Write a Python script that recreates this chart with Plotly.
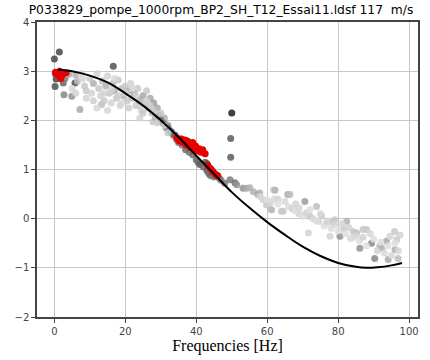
import plotly.graph_objects as go

# Fitted curve
curve_hz = [1, 5, 10, 15, 20, 25, 30, 35, 40, 45, 50, 55, 60, 65, 70, 75, 80, 85, 88, 91, 95, 98]
curve_val = [3.03, 3.00, 2.91, 2.77, 2.55, 2.30, 2.00, 1.66, 1.28, 0.91, 0.54, 0.22, -0.07, -0.33, -0.57, -0.76, -0.90, -0.98, -1.00, -0.99, -0.95, -0.90]

# Grey measurement points: frequency, value, darkness (0 white .. 1 black)
pts_hz = [
    0.0, 1.4, 0.2, 0.5, 2.5, 5.8, 4.9, 2.7, 0.3, 1.0, 3.0, 4.0, 6.0, 7.2, 16.6,
    6.5, 7.5, 8.5, 9.0, 10.0, 10.5, 11.0, 12.0, 12.5, 13.0, 13.3, 13.5, 14.0, 14.5, 15.0,
    15.5, 16.0, 16.5, 17.0, 17.5, 18.0, 18.5, 19.0, 19.5, 20.0, 20.5, 21.0, 21.5, 22.0,
    22.5, 23.0, 23.5, 24.0, 24.1, 24.5, 25.0, 25.5, 26.0, 26.5, 27.0, 27.5, 27.8, 28.0,
    28.5, 29.0, 29.5, 30.0, 30.5, 31.0, 31.5, 32.0, 32.5, 33.0, 33.5, 34.0, 34.5, 35.0,
    35.5, 36.0, 37.0, 37.5, 38.0, 39.0, 40.0, 40.5, 41.0, 42.0, 43.0, 43.5, 44.0, 45.0,
    30.0, 31.0, 32.0, 33.0, 34.0, 42.5, 43.0, 44.5, 45.5, 46.5, 47.0, 48.0,
    50.0, 49.7, 49.7, 49.5, 50.9, 51.4, 53.2, 54.2, 55.1, 56.1, 57.4, 57.9, 58.8, 59.8,
    60.8, 61.2, 61.7, 62.2, 64.0, 64.5, 65.8, 66.4, 70.6, 71.6, 72.0, 73.9, 75.3, 76.7,
    77.7, 78.6, 79.0, 80.5, 82.4, 84.2, 85.2, 86.1, 87.0, 88.0, 89.4, 90.3, 91.7, 92.2,
    93.6, 94.1, 94.6, 95.9, 96.0, 96.5, 96.9, 97.4, 68.0, 69.0, 74.5, 81.5, 83.5, 63.0,
    5.0, 6.0, 8.0, 9.0, 11.0, 12.0, 14.0, 15.0, 16.0, 17.0, 18.0, 19.0, 20.0, 21.0,
    22.0, 23.0, 24.0, 25.0, 26.0, 27.0, 28.0, 29.0, 30.0, 31.0, 32.0,
    58.0, 60.0, 62.0, 63.0, 65.0, 66.0, 67.0, 68.0, 69.0, 70.0, 71.0, 72.0, 73.0, 74.0,
    75.0, 76.0, 77.0, 78.0, 79.0, 80.0, 81.0, 82.0, 83.0, 84.0, 85.0, 86.0, 87.0, 88.0,
    89.0, 90.0, 91.0, 92.0, 93.0, 94.0, 95.0, 96.0, 97.0,
]
pts_val = [
    3.25, 3.39, 2.69, 2.84, 2.76, 2.76, 2.49, 2.52, 2.95, 2.88, 2.85, 2.93, 2.92, 2.22, 3.10,
    2.80, 2.95, 2.70, 2.60, 2.85, 2.55, 2.75, 2.95, 2.65, 2.50, 2.32, 2.80, 2.40, 2.70, 2.90,
    2.55, 2.35, 2.75, 2.60, 2.45, 2.82, 2.30, 2.65, 2.50, 2.70, 2.40, 2.60, 2.75, 2.45,
    2.55, 2.30, 2.65, 2.42, 2.05, 2.20, 2.50, 2.35, 2.60, 2.25, 2.45, 2.15, 1.97, 2.35,
    2.05, 2.25, 2.10, 2.00, 1.95, 2.05, 1.85, 1.90, 1.80, 1.75, 1.70, 1.68, 1.60, 1.55,
    1.62, 1.50, 1.40, 1.45, 1.35, 1.30, 1.20, 1.15, 1.10, 1.05, 0.98, 0.92, 0.88, 0.85,
    2.00, 1.93, 1.85, 1.77, 1.70, 1.15, 1.12, 0.98, 0.88, 0.82, 0.78, 0.72,
    2.15, 1.63, 1.25, 0.79, 0.73, 0.69, 0.62, 0.62, 0.63, 0.55, 0.49, 0.52, 0.39, 0.28,
    0.32, 0.18, 0.59, 0.58, 0.15, 0.15, 0.49, 0.49, 0.35, -0.29, 0.05, 0.25, 0.06, -0.09,
    -0.36, -0.07, -0.02, -0.36, -0.05, -0.26, -0.29, -0.60, -0.22, -0.22, -0.50, -0.81, -0.56, -0.60,
    -0.46, -0.83, -0.36, -0.26, -0.63, -0.43, -0.81, -0.33, 0.30, 0.10, -0.05, -0.20, -0.40, 0.40,
    2.65, 2.55, 2.85, 2.45, 2.40, 2.25, 2.55, 2.20, 2.62, 2.85, 2.50, 2.35, 2.55, 2.25,
    2.65, 2.50, 2.30, 2.15, 2.40, 2.30, 2.20, 1.95, 2.15, 1.90, 1.75,
    0.45, 0.38, 0.40, 0.30, 0.35, 0.25, 0.20, 0.15, 0.22, 0.05, 0.12, 0.18, 0.00, -0.05,
    0.10, -0.15, -0.05, -0.20, -0.12, -0.25, -0.10, -0.30, -0.18, -0.40, -0.35, -0.45, -0.38, -0.55,
    -0.30, -0.42, -0.65, -0.48, -0.70, -0.55, -0.75, -0.50, -0.65,
]
pts_dark = [
    0.75, 0.75, 0.7, 0.75, 0.6, 0.7, 0.4, 0.45, 0.8, 0.6, 0.5, 0.3, 0.25, 0.3, 0.7,
    0.2, 0.1, 0.15, 0.15, 0.15, 0.1, 0.25, 0.1, 0.15, 0.1, 0.2, 0.2, 0.15, 0.25, 0.1,
    0.15, 0.1, 0.2, 0.25, 0.15, 0.15, 0.1, 0.2, 0.25, 0.15, 0.15, 0.25, 0.1, 0.2,
    0.3, 0.15, 0.15, 0.25, 0.1, 0.1, 0.3, 0.2, 0.15, 0.25, 0.3, 0.2, 0.15, 0.35,
    0.25, 0.3, 0.35, 0.3, 0.35, 0.25, 0.4, 0.35, 0.45, 0.35, 0.5, 0.45, 0.45, 0.55,
    0.5, 0.55, 0.6, 0.5, 0.55, 0.6, 0.6, 0.55, 0.65, 0.6, 0.65, 0.55, 0.6, 0.5,
    0.55, 0.6, 0.5, 0.55, 0.6, 0.6, 0.7, 0.65, 0.7, 0.6, 0.5, 0.5,
    0.95, 0.65, 0.65, 0.5, 0.55, 0.4, 0.4, 0.3, 0.25, 0.25, 0.3, 0.25, 0.1, 0.15,
    0.1, 0.25, 0.1, 0.25, 0.15, 0.15, 0.3, 0.2, 0.35, 0.1, 0.15, 0.2, 0.15, 0.1,
    0.1, 0.2, 0.15, 0.4, 0.25, 0.15, 0.2, 0.4, 0.15, 0.15, 0.45, 0.45, 0.2, 0.25,
    0.3, 0.3, 0.1, 0.15, 0.25, 0.15, 0.2, 0.1, 0.1, 0.1, 0.1, 0.15, 0.1, 0.1,
    0.08, 0.1, 0.08, 0.1, 0.12, 0.08, 0.1, 0.08, 0.1, 0.08, 0.12, 0.08, 0.1, 0.12,
    0.08, 0.1, 0.12, 0.15, 0.1, 0.12, 0.15, 0.12, 0.15, 0.12, 0.15,
    0.08, 0.05, 0.08, 0.05, 0.08, 0.05, 0.1, 0.05, 0.08, 0.05, 0.1, 0.05, 0.08, 0.05,
    0.08, 0.05, 0.1, 0.05, 0.08, 0.05, 0.08, 0.05, 0.1, 0.05, 0.08, 0.05, 0.1, 0.05,
    0.08, 0.05, 0.1, 0.05, 0.08, 0.05, 0.08, 0.05, 0.08,
]

# Red highlighted points
red_hz = [0.3, 1.0, 1.5, 2.0, 2.5, 3.3, 1.8,
          34.5, 35.2, 35.8, 36.3, 36.8, 37.2, 37.8, 38.3, 38.8, 39.3, 39.8, 40.3, 40.8,
          41.3, 41.8, 42.5, 37.5, 39.0, 43.3, 44.0, 44.8, 45.5, 46.0]
red_val = [2.98, 2.92, 3.00, 2.90, 2.95, 2.97, 2.85,
           1.64, 1.58, 1.62, 1.55, 1.60, 1.50, 1.53, 1.45, 1.50, 1.42, 1.48, 1.38, 1.42,
           1.35, 1.40, 1.32, 1.58, 1.55, 1.08, 1.02, 0.95, 0.90, 0.88]

x_ticks = [0, 20, 40, 60, 80, 100]
y_ticks = [-2, -1, 0, 1, 2, 3, 4]


def grey(d):
    g = int(round(232 - d * 215))
    return f"rgba({g},{g},{g},0.85)"


fig = go.Figure()
fig.add_trace(go.Scatter(
    x=pts_hz, y=pts_val, mode="markers",
    marker=dict(size=7, color=[grey(d) for d in pts_dark], line=dict(width=0)),
    showlegend=False, hoverinfo="skip"))
fig.add_trace(go.Scatter(
    x=red_hz, y=red_val, mode="markers",
    marker=dict(size=7, color="rgb(230,0,0)", line=dict(width=0)),
    showlegend=False, hoverinfo="skip"))
fig.add_trace(go.Scatter(
    x=curve_hz, y=curve_val, mode="lines",
    line=dict(color="black", width=2, shape="spline"),
    showlegend=False, hoverinfo="skip"))

axis_common = dict(
    showgrid=True, gridcolor="#c8c8c8", gridwidth=1,
    showline=True, linecolor="#444444", linewidth=1.5, mirror=True,
    ticks="outside", ticklen=4, tickcolor="#444444",
    tickfont=dict(family="DejaVu Sans", size=10, color="#444444"),
    zeroline=False, automargin=False,
)
fig.update_xaxes(range=[-4.9, 102.5], tickvals=x_ticks, **axis_common,
                 title=dict(text="Frequencies [Hz]", font=dict(family="Liberation Serif", size=16, color="black"), standoff=2))
fig.update_yaxes(range=[-2, 4], tickvals=y_ticks, **axis_common)

fig.update_layout(
    width=430, height=360,
    margin=dict(l=37, r=12, t=22, b=43),
    paper_bgcolor="white", plot_bgcolor="white",
    title=dict(text="P033829_pompe_1000rpm_BP2_SH_T12_Essai11.ldsf 117  m/s",
               font=dict(family="DejaVu Sans", size=12.3, color="black"),
               xref="container", x=0.514, xanchor="center", y=0.985, yanchor="top"),
)

fig.write_html("out.html", config={"displayModeBar": False},
               post_script="document.body.style.margin='0';")
